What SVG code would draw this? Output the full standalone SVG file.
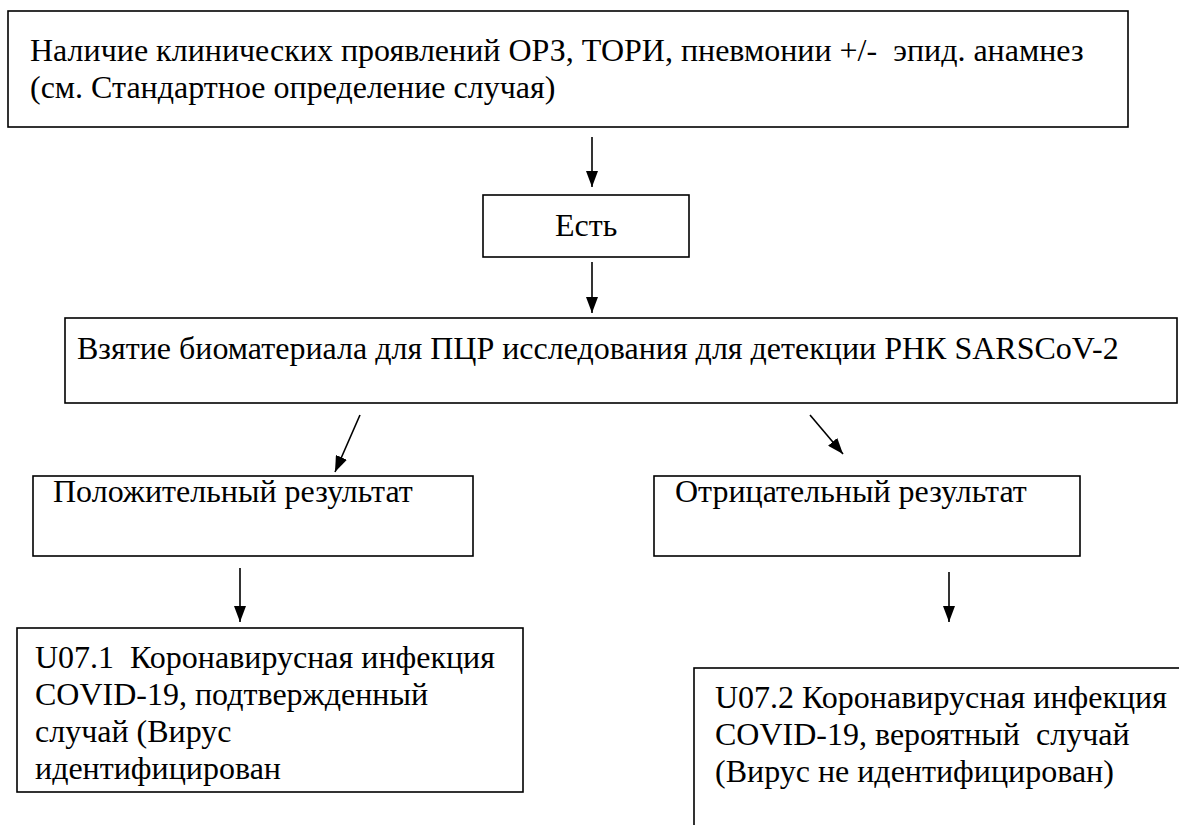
<svg xmlns="http://www.w3.org/2000/svg" width="1179" height="825" viewBox="0 0 1179 825">
<style>
.box{fill:#fff;stroke:#000;stroke-width:1.6}
.t{font-family:'Liberation Serif','Times New Roman',serif;font-size:32px;fill:#000;white-space:pre}
.c{stroke:#000;stroke-width:1.6;fill:none;marker-end:url(#ah)}
</style>
<defs>
<marker id="ah" viewBox="0 0 16 12" refX="16" refY="6" markerWidth="16" markerHeight="12" markerUnits="userSpaceOnUse" orient="auto">
<path d="M0,0 L16,6 L0,12 z" fill="#000"/>
</marker>
</defs>
<rect width="1179" height="825" fill="#fff"/>
<g id="connectors">
<line class="c" x1="592" y1="137" x2="592" y2="187"/>
<line class="c" x1="592" y1="262" x2="592" y2="313"/>
<line class="c" x1="360" y1="415" x2="335" y2="472"/>
<line class="c" x1="810" y1="415" x2="843" y2="454"/>
<line class="c" x1="240" y1="568" x2="240" y2="622"/>
<line class="c" x1="949" y1="572" x2="949" y2="622"/>
</g>
<g id="n-symptoms">
<rect class="box" x="8" y="11" width="1120" height="116"/>
<text class="t" x="30" y="61">Наличие клинических проявлений ОРЗ, ТОРИ, пневмонии +/-  эпид. анамнез</text>
<text class="t" x="30" y="98">(см. Стандартное определение случая)</text>
</g>
<g id="n-yes">
<rect class="box" x="483" y="195" width="206" height="62"/>
<text class="t" x="555" y="236">Есть</text>
</g>
<g id="n-pcr">
<rect class="box" x="65" y="318" width="1112" height="85"/>
<text class="t" x="77" y="359">Взятие биоматериала для ПЦР исследования для детекции РНК SARSCoV-2</text>
</g>
<g id="n-positive">
<rect class="box" x="33" y="476" width="440" height="80"/>
<text class="t" x="53" y="502">Положительный результат</text>
</g>
<g id="n-negative">
<rect class="box" x="654" y="476" width="426" height="80"/>
<text class="t" x="675" y="502">Отрицательный результат</text>
</g>
<g id="n-confirmed">
<rect class="box" x="17" y="628" width="506" height="164"/>
<text class="t" x="35" y="668">U07.1  Коронавирусная инфекция</text>
<text class="t" x="35" y="705">COVID-19, подтвержденный</text>
<text class="t" x="35" y="742">случай (Вирус</text>
<text class="t" x="35" y="779">идентифицирован</text>
</g>
<g id="n-probable">
<rect class="box" x="694" y="668" width="520" height="200"/>
<text class="t" x="715" y="708">U07.2 Коронавирусная инфекция</text>
<text class="t" x="715" y="745">COVID-19, вероятный  случай</text>
<text class="t" x="715" y="782">(Вирус не идентифицирован)</text>
</g>
</svg>
